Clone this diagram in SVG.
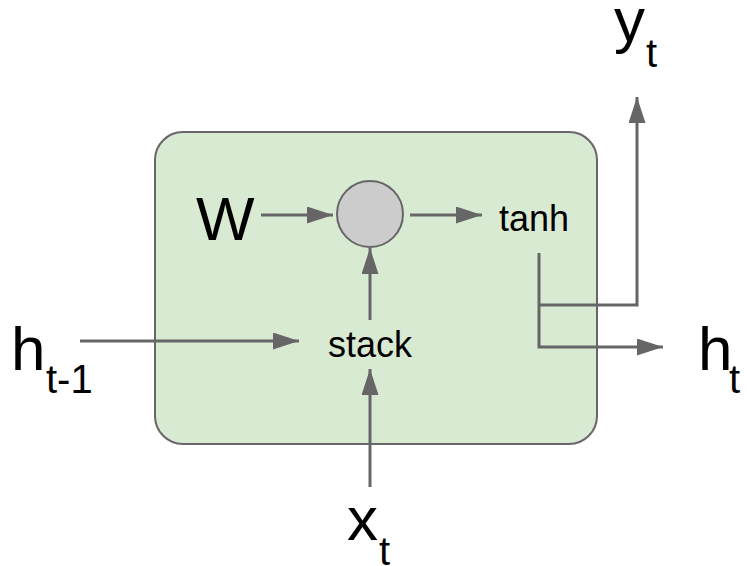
<svg xmlns="http://www.w3.org/2000/svg" width="750" height="566" viewBox="0 0 750 566">
<style>
  .lbl { font-family: "Liberation Sans", Arial, sans-serif; fill: #000; }
  .big { font-size: 62px; }
  .sub { font-size: 40px; }
  .mid { font-size: 36px; }
  .conn { fill: none; stroke: #666666; stroke-width: 3; marker-end: url(#arr); }
</style>
<defs>
  <marker id="arr" markerUnits="userSpaceOnUse" markerWidth="26" markerHeight="17" refX="26" refY="8.5" orient="auto">
    <path d="M0,0 L26,8.5 L0,17 z" fill="#666666"/>
  </marker>
</defs>
<g id="cell">
  <rect x="155" y="132" width="442" height="312" rx="28" ry="28" fill="#d9ead3" stroke="#666666" stroke-width="2"/>
</g>
<g id="mult">
  <circle cx="370" cy="214" r="33" fill="#cccccc" stroke="#666666" stroke-width="2"/>
</g>
<g id="W"><text class="lbl big" x="196" y="240">W</text></g>
<g id="tanh"><text class="lbl mid" x="499" y="231">tanh</text></g>
<g id="stack"><text class="lbl mid" x="370" y="357" text-anchor="middle">stack</text></g>
<g id="yt"><text class="lbl big" x="614" y="41">y</text><text class="lbl sub" x="646" y="67">t</text></g>
<g id="ht"><text class="lbl big" x="698" y="370">h</text><text class="lbl sub" x="729" y="393">t</text></g>
<g id="htm1"><text class="lbl big" x="11" y="370">h</text><text class="lbl sub" x="46" y="393">t-1</text></g>
<g id="xt"><text class="lbl big" x="347" y="540">x</text><text class="lbl sub" x="379" y="565">t</text></g>
<g id="connectors">
  <path class="conn" d="M261,215 H333"/>
  <path class="conn" d="M410,215 H482"/>
  <path class="conn" d="M370,320 V248"/>
  <path class="conn" d="M80,341 H299"/>
  <path class="conn" d="M370,487 V369"/>
  <path class="conn" d="M539,253 V347 H663"/>
  <path class="conn" d="M539,305 H637 V97"/>
</g>
</svg>
